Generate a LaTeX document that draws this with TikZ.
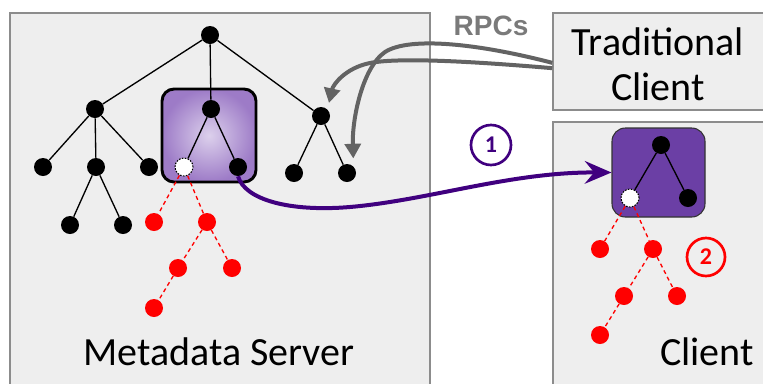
\documentclass[tikz,border=0pt]{standalone}
\usepackage{fontspec}
\setmainfont{Carlito}
\newfontfamily\rpcfont{Liberation Sans}
\usetikzlibrary{arrows.meta,fit,calc}
\definecolor{mdPanel}{HTML}{EEEEEE}
\definecolor{mdFrame}{HTML}{8C8C8C}
\definecolor{mdGray}{HTML}{636363}
\definecolor{mdRPC}{HTML}{7A7A7A}
\definecolor{mdIndigo}{HTML}{40007F}
\definecolor{mdViolet}{HTML}{6B3FA5}
\definecolor{mdLavLight}{HTML}{DCD0EC}
\definecolor{mdLavDark}{HTML}{9D7BC7}
\definecolor{mdRed}{HTML}{FF0000}
\tikzset{
  panelBox/.style={
    draw=mdFrame,
    fill=mdPanel,
    line width=1.1pt,
    inner sep=0pt
  },
  panelLabel/.style={
    font=\fontsize{30}{34}\selectfont,
    align=center
  },
  treeDot/.style={
    circle,
    fill=black,
    minimum size=13.5pt,
    inner sep=0pt
  },
  treeHollow/.style={
    circle,
    fill=white,
    draw=black,
    dash pattern=on 1.2pt off 1pt,
    line width=0.8pt,
    minimum size=13.5pt,
    inner sep=0pt
  },
  treeRed/.style={
    treeDot,
    fill=mdRed
  },
  treeEdge/.style={
    draw=black,
    line width=1pt
  },
  treeDash/.style={
    draw=mdRed,
    line width=1pt,
    dash pattern=on 3pt off 2.5pt
  },
  subtreeBox/.style={
    draw=black,
    line width=2.2pt,
    rounded corners=9pt,
    inner sep=0pt,
    inner color=mdLavLight,
    outer color=mdLavDark
  },
  cachedBox/.style={
    draw=black!80,
    line width=0.8pt,
    rounded corners=10pt,
    fill=mdViolet,
    inner sep=0pt
  },
  rpcArrow/.style={
    -{Triangle[length=11pt,width=12pt]},
    line width=3pt,
    draw=mdGray
  },
  pushArrow/.style={
    -{Stealth[length=20pt,width=17pt,inset=7pt]},
    line width=3pt,
    draw=mdIndigo
  },
  numCircle/.style={
    circle,
    line width=2pt,
    minimum size=30pt,
    inner sep=0pt,
    font=\bfseries\fontsize{18}{18}\selectfont
  }
}

\begin{document}
\begin{tikzpicture}[x=0.75pt, y=-0.75pt]
  \clip (0,0) rectangle (763,383);

  % panels
  \node[panelBox, fit={(10,13) (430,400)}] (server) {};
  \node[panelBox, fit={(553,13) (790,110)}] (tclient) {};
  \node[panelBox, fit={(553,122) (790,400)}] (client) {};

  \node[panelLabel, anchor=base] (serverLabel) at (219,365) {Metadata Server};
  \node[panelLabel] (tclientLabel) at (658,64) {Traditional\\Client};
  \node[panelLabel, anchor=base] (clientLabel) at (707,365) {Client};
  \node[font=\rpcfont\bfseries\fontsize{21}{21}\selectfont, text=mdRPC, anchor=base] (rpcLabel) at (491,35) {RPCs};

  % server tree
  \node[subtreeBox, fit={(162,89) (256,182)}] (msBox) {};
  \node[treeDot] (r) at (210,35) {};
  \node[treeDot] (a) at (95,109) {};
  \node[treeDot] (b) at (211,109) {};
  \node[treeDot] (c) at (321,116) {};
  \node[treeDot] (a1) at (43,167) {};
  \node[treeDot] (a2) at (96,167) {};
  \node[treeDot] (a3) at (149,167) {};
  \node[treeDot] (a21) at (70,225) {};
  \node[treeDot] (a22) at (123,225) {};
  \node[treeHollow] (b1) at (184,167) {};
  \node[treeDot] (b2) at (238,167) {};
  \node[treeDot] (c1) at (294,173) {};
  \node[treeDot] (c2) at (347,173) {};
  \node[treeRed] (x1) at (154,222) {};
  \node[treeRed] (x2) at (207,222) {};
  \node[treeRed] (x21) at (178,268) {};
  \node[treeRed] (x22) at (232,268) {};
  \node[treeRed] (x211) at (154,308) {};

  \draw[treeEdge] (r) -- (a);
  \draw[treeEdge] (r) -- (b);
  \draw[treeEdge] (r) -- (c);
  \draw[treeEdge] (a) -- (a1);
  \draw[treeEdge] (a) -- (a2);
  \draw[treeEdge] (a) -- (a3);
  \draw[treeEdge] (a2) -- (a21);
  \draw[treeEdge] (a2) -- (a22);
  \draw[treeEdge] (b) -- (b1);
  \draw[treeEdge] (b) -- (b2);
  \draw[treeEdge] (c) -- (c1);
  \draw[treeEdge] (c) -- (c2);
  \draw[treeDash] (b1) -- (x1);
  \draw[treeDash] (b1) -- (x2);
  \draw[treeDash] (x2) -- (x21);
  \draw[treeDash] (x2) -- (x22);
  \draw[treeDash] (x21) -- (x211);

  % client tree
  \node[cachedBox, fit={(612,128) (705,217)}] (cBox) {};
  \node[treeDot] (k) at (661,145) {};
  \node[treeHollow] (k1) at (630,198) {};
  \node[treeDot] (k2) at (688,198) {};
  \node[treeRed] (y1) at (600,249) {};
  \node[treeRed] (y2) at (653,249) {};
  \node[treeRed] (y21) at (624,296) {};
  \node[treeRed] (y22) at (677,296) {};
  \node[treeRed] (y211) at (600,335) {};

  \draw[treeEdge] (k) -- (k1);
  \draw[treeEdge] (k) -- (k2);
  \draw[treeDash] (k1) -- (y1);
  \draw[treeDash] (k1) -- (y2);
  \draw[treeDash] (y2) -- (y21);
  \draw[treeDash] (y2) -- (y22);
  \draw[treeDash] (y21) -- (y211);

  % steps
  \node[numCircle, draw=mdIndigo, text=mdIndigo] (one) at (491,145) {1};
  \node[numCircle, draw=mdRed, text=mdRed, minimum size=28.5pt] (two) at (706,257) {2};

  % connectors
  \draw[rpcArrow, shorten >=6pt] ([yshift=-1pt]tclient.west) .. controls (480,44) and (410,36) .. (385,52)
    .. controls (362,68) and (352,120) .. (c2.north east);
  \draw[rpcArrow, shorten >=5pt] ([yshift=-5pt]tclient.west) .. controls (480,62) and (400,57) .. (370,63)
    .. controls (345,68) and (333,85) .. (c.north east);
  \draw[pushArrow] (b2.south) .. controls (245,200) and (290,212) .. (350,207)
    .. controls (430,200) and (510,172) .. (cBox.west);
\end{tikzpicture}
\end{document}
